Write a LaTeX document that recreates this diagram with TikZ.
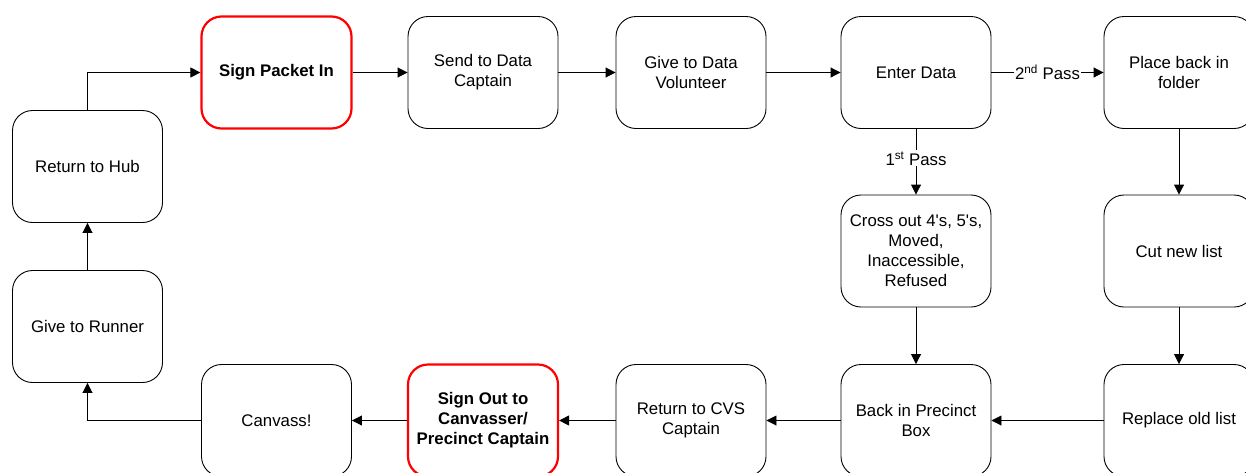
\documentclass[tikz,border=0pt]{standalone}
\usepackage{fontspec}
\setmainfont{Liberation Sans}
\usetikzlibrary{arrows.meta}
\begin{document}
\begin{tikzpicture}[x=1pt,y=-1pt,
  box/.style={draw=black, line width=0.9pt, rounded corners=20pt, fill=white,
    minimum width=150pt, minimum height=112pt, align=center,
    font=\fontsize{16.8}{20}\selectfont, inner sep=2pt},
  redbox/.style={box, draw=red, line width=2.2pt, font=\fontsize{16.8}{20}\selectfont\bfseries},
  arr/.style={draw=black, line width=0.9pt, -{Triangle[length=10pt,width=10pt]}},
  lbl/.style={fill=white, inner sep=1pt, font=\fontsize{16.8}{20}\selectfont}]
\useasboundingbox (0,0) rectangle (1246,472);
\node[box] (hub) at (87.5,166.5) {Return to Hub};
\node[box] (runner) at (87.5,326.5) {Give to Runner};
\node[redbox] (sign) at (276.5,72.5) {Sign Packet In};
\node[box] (send) at (483,72.5) {Send to Data\\Captain};
\node[box] (give) at (691,72.5) {Give to Data\\Volunteer};
\node[box] (enter) at (916,72.5) {Enter Data};
\node[box] (place) at (1179,72.5) {Place back in\\folder};
\node[box] (cross) at (916,251) {Cross out 4\textquotesingle s, 5\textquotesingle s,\\Moved,\\Inaccessible,\\Refused};
\node[box] (cut) at (1179,251) {Cut new list};
\node[box] (canvass) at (276.5,420.5) {Canvass!};
\node[redbox] (signout) at (483,420.5) {Sign Out to\\Canvasser/\\Precinct Captain};
\node[box] (cvs) at (691,420.5) {Return to CVS\\Captain};
\node[box] (back) at (916,420.5) {Back in Precinct\\Box};
\node[box] (replace) at (1179,420.5) {Replace old list};

\draw[arr] (hub.north) |- (sign.west);
\draw[arr] (runner.north) -- (hub.south);
\draw[arr] (canvass.west) -| (runner.south);
\draw[arr] (sign.east) -- (send.west);
\draw[arr] (send.east) -- (give.west);
\draw[arr] (give.east) -- (enter.west);
\draw[arr] (enter.east) -- node[lbl] (p2) {2\textsuperscript{nd} Pass} (place.west);
\draw[arr] (enter.south) -- node[lbl, pos=0.45] (p1) {1\textsuperscript{st} Pass} (cross.north);
\draw[arr] (cross.south) -- (back.north);
\draw[arr] (place.south) -- (cut.north);
\draw[arr] (cut.south) -- (replace.north);
\draw[arr] (replace.west) -- (back.east);
\draw[arr] (back.west) -- (cvs.east);
\draw[arr] (cvs.west) -- (signout.east);
\draw[arr] (signout.west) -- (canvass.east);
\end{tikzpicture}
\end{document}
